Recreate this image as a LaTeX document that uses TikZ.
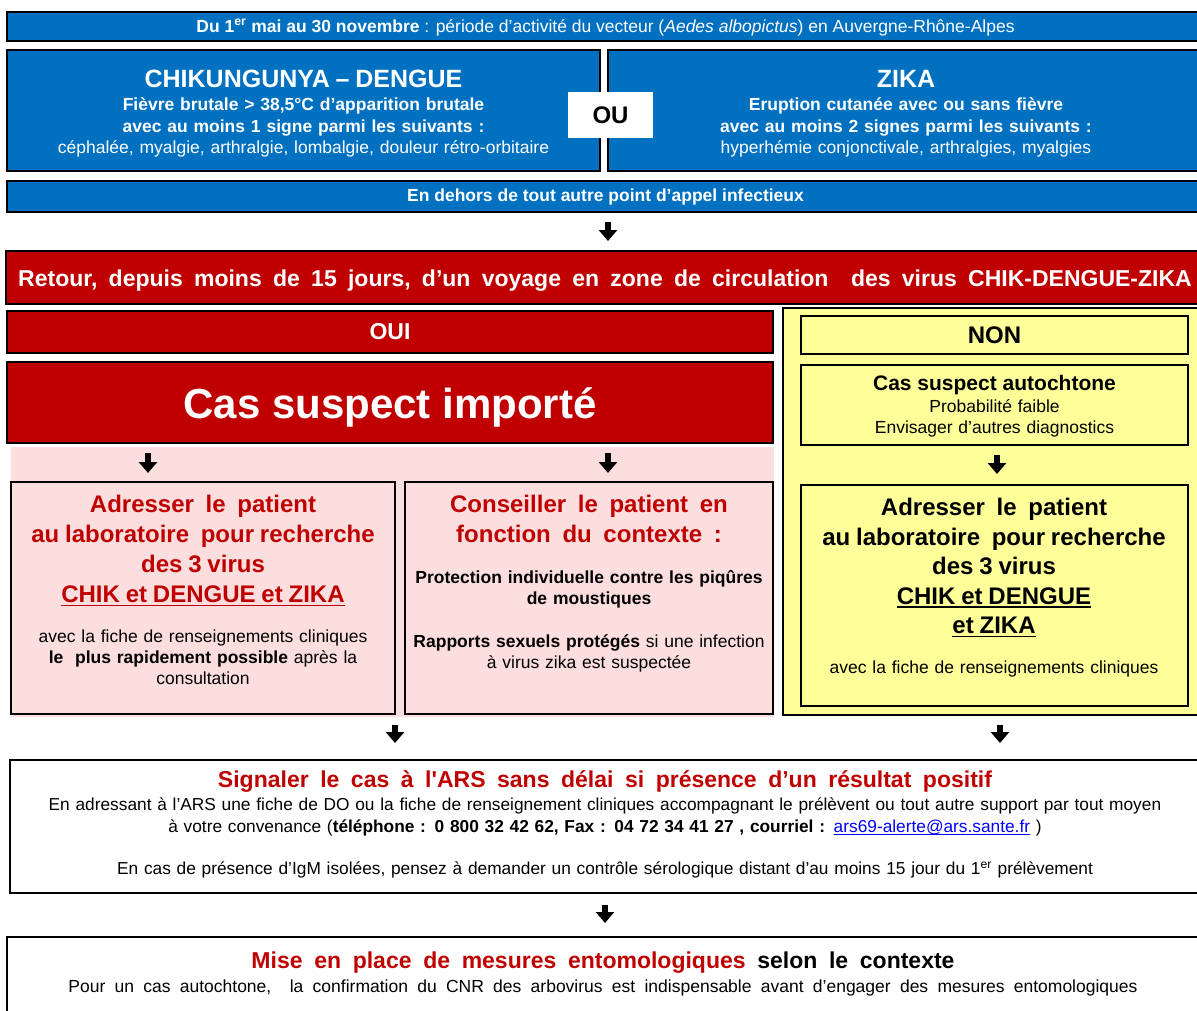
\documentclass[tikz,border=0pt]{standalone}
\usepackage{fontspec}
\setmainfont{Liberation Sans}
\usetikzlibrary{arrows.meta}
\definecolor{blueC}{HTML}{0070C0}
\definecolor{redC}{HTML}{C00000}
\definecolor{redT}{HTML}{C00000}
\definecolor{pinkC}{HTML}{FDDEDE}
\definecolor{yelC}{HTML}{FFFF99}
\definecolor{linkC}{HTML}{0000FF}
\newcommand\fs[2]{\fontsize{#1}{#2}\selectfont\lineskiplimit=-100pt\relax}
\newsavebox\ulbox
\newcommand\ulx[1]{\leavevmode\sbox\ulbox{#1}\rlap{\rule[-3.6pt]{\wd\ulbox}{1.8pt}}\usebox\ulbox}
\newcommand\lnk[1]{\leavevmode{\color{linkC}\sbox\ulbox{#1}\rlap{\rule[-2.2pt]{\wd\ulbox}{1pt}}\usebox\ulbox}}
\newcommand\lift[1]{\rule{0pt}{#1}}
\newcommand\wsp[1]{\spaceskip=#1\relax}
\begin{document}
\begin{tikzpicture}[x=1pt,y=-1pt,
  box/.style={anchor=north west, inner sep=0pt, outer sep=0pt, line width=2pt, draw=black, align=center},
  bluebox/.style={box, fill=blueC, text=white},
  redbox/.style={box, fill=redC, text=white},
  pinkbox/.style={box, fill=pinkC},
  yelbox/.style={box, fill=yelC},
  whitebox/.style={box, fill=white},
  txt/.style={inner sep=0pt, outer sep=0pt, align=center, anchor=north},
  barr/.style={line width=6pt, -{Triangle[length=11pt,width=18pt]}},
  body/.style={font=\fs{17.5}{21}}
]
\useasboundingbox (0,0) rectangle (1197,1010);
\clip (0,0) rectangle (1197,1010);
\fill[white] (0,0) rectangle (1197,1010);

% ---- top blue part
\node[bluebox, body, minimum width=1197pt, minimum height=29pt] (top) at (7,12)
  {\lift{15pt}\textbf{Du 1\textsuperscript{er} mai au 30 novembre} : période d’activité du vecteur (\textit{Aedes albopictus}) en Auvergne-Rhône-Alpes};

\node[bluebox, font=\fs{17.5}{21.5}, text width=585pt, minimum width=593pt, minimum height=121pt] (chik) at (7,50)
  {{\fs{25}{21}\bfseries\lift{23.5pt}CHIKUNGUNYA – DENGUE}\\[2pt]
   \textbf{Fièvre brutale > 38,5°C d’apparition brutale}\\
   \textbf{avec au moins 1 signe parmi les suivants :}\\
   céphalée, myalgie, arthralgie, lombalgie, douleur rétro-orbitaire};

\node[bluebox, font=\fs{17.5}{21.5}, text width=585pt, minimum width=596pt, minimum height=121pt] (zika) at (608,50)
  {{\fs{25}{21}\bfseries\lift{23.5pt}ZIKA}\\[2pt]
   \textbf{Eruption cutanée avec ou sans fièvre}\\
   \textbf{avec au moins 2 signes parmi les suivants :}\\
   hyperhémie conjonctivale, arthralgies, myalgies};

\node[box, draw=none, fill=white, font=\fs{24}{26}\bfseries, minimum width=85pt, minimum height=46pt] (ou) at (568,92) {OU};

\node[bluebox, font=\fs{17.5}{21}\bfseries, minimum width=1197pt, minimum height=31pt] (dehors) at (7,181)
  {En dehors de tout autre point d’appel infectieux};

% ---- red part
\node[redbox, font=\fs{23}{26}\bfseries, minimum width=1198pt, minimum height=53pt] (retour) at (6,251)
  {\wsp{0.49em}\lift{22.5pt}Retour, depuis moins de 15 jours, d’un voyage en zone de circulation\ \ des virus CHIK-DENGUE-ZIKA};

\node[redbox, font=\fs{23}{26}\bfseries, minimum width=766pt, minimum height=42pt] (oui) at (7,311) {OUI};
\node[redbox, font=\fs{42}{46}\bfseries, minimum width=766pt, minimum height=81pt] (casimp) at (7,362) {\lift{40pt}Cas suspect importé};

\node[box, draw=none, fill=pinkC, minimum width=763pt, minimum height=270pt] (pinkzone) at (11,447) {};

\node[pinkbox, minimum width=384pt, minimum height=232pt] (leftbox) at (11,482) {};
\node[pinkbox, minimum width=368pt, minimum height=232pt] (midbox) at (405,482) {};

\node[txt, body, text width=380pt] (lefttxt) at (203,495)
  {{\color{redT}\bfseries\fs{24}{21}Adresser\ \ le\ \ patient\\[9.5pt]
   au laboratoire\ \ pour recherche\\[9pt]
   des 3 virus\\[9pt]
   \ulx{CHIK et DENGUE et ZIKA}}\\[18.5pt]
   avec la fiche de renseignements cliniques\\
   \textbf{le\ \ plus rapidement possible} après la\\
   consultation};

\node[txt, body, text width=364pt] (midtxt) at (589,495)
  {{\color{redT}\bfseries\fs{24}{21}Conseiller\ \ le\ \ patient\ \ en\\[9.5pt]
   fonction\ \ du\ \ contexte\ \ :}\\[20pt]
   \textbf{Protection individuelle contre les piqûres}\\
   \textbf{de moustiques}\\[22pt]
   \textbf{Rapports sexuels protégés} si une infection\\
   à virus zika est suspectée};

% ---- yellow part
\node[yelbox, minimum width=421pt, minimum height=407pt] (yelcol) at (783,308) {};
\node[yelbox, font=\fs{24}{26}\bfseries, minimum width=387pt, minimum height=38pt] (non) at (801,316) {NON};
\node[yelbox, body, text width=380pt, minimum width=387pt, minimum height=80pt] (auto) at (801,365)
  {{\fs{21}{21}\bfseries\lift{17pt}Cas suspect autochtone}\\[1pt]
   Probabilité faible\\
   Envisager d’autres diagnostics};
\node[yelbox, minimum width=387pt, minimum height=221pt] (yadr) at (801,485) {};
\node[txt, body, text width=380pt] (yadrtxt) at (994,498)
  {{\bfseries\fs{24}{21}Adresser\ \ le\ \ patient\\[9pt]
   au laboratoire\ \ pour recherche\\[8.5pt]
   des 3 virus\\[8.5pt]
   \ulx{CHIK et DENGUE}\\[8.5pt]
   \ulx{et ZIKA}}\\[19pt]
   avec la fiche de renseignements cliniques};

% ---- bottom part
\node[whitebox, minimum width=1194pt, minimum height=133pt] (signal) at (10,760) {};
\node[txt, font=\fs{17.3}{21.5}, text width=1180pt] (signaltxt) at (605,771)
  {{\color{redT}\bfseries\fs{23}{21}Signaler\ \ le\ \ cas\ \ à\ \ l\textquotesingle ARS\ \ sans\ \ délai\ \ si\ \ présence\ \ d’un\ \ résultat\ \ positif}\\[1.5pt]
   En adressant à l’ARS une fiche de DO ou la fiche de renseignement cliniques accompagnant le prélèvent ou tout autre support par tout moyen\\
   à votre convenance (\textbf{téléphone : 0 800 32 42 62, Fax : 04 72 34 41 27 , courriel :} \lnk{ars69-alerte@ars.sante.fr} )\\[21pt]
   En cas de présence d’IgM isolées, pensez à demander un contrôle sérologique distant d’au moins 15 jour du 1\textsuperscript{er} prélèvement};

\node[whitebox, minimum width=1197pt, minimum height=90pt] (mise) at (7,937) {};
\node[txt, body, text width=1180pt] (misetxt) at (603,952)
  {{\bfseries\fs{23}{21}{\color{redT}Mise\ \ en\ \ place\ \ de\ \ mesures\ \ entomologiques}\ \ selon\ \ le\ \ contexte}\\[3pt]
   {\wsp{0.53em}Pour un cas autochtone,\ \ la confirmation du CNR des arbovirus est indispensable avant d’engager des mesures entomologiques}};

% ---- arrows
\coordinate (a0) at (608,222);
\draw[barr, shorten >=10pt] (a0) -- (a0 |- retour.north);
\coordinate (a1) at (148,453);
\draw[barr, shorten >=9pt] (a1) -- (a1 |- leftbox.north);
\coordinate (a2) at (608,453);
\draw[barr, shorten >=9pt] (a2) -- (a2 |- midbox.north);
\coordinate (a3) at (997,455);
\draw[barr, shorten >=11pt] (a3) -- (a3 |- yadr.north);
\coordinate (a4) at (395,725);
\draw[barr, shorten >=17pt] (a4) -- (a4 |- signal.north);
\coordinate (a5) at (1000,725);
\draw[barr, shorten >=17pt] (a5) -- (a5 |- signal.north);
\coordinate (a6) at (605,905);
\draw[barr, shorten >=14pt] (a6) -- (a6 |- mise.north);
\end{tikzpicture}
\end{document}
